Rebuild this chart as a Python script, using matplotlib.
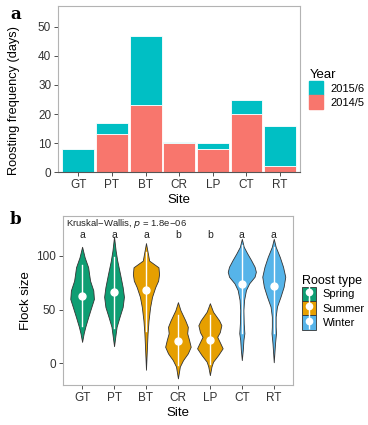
import numpy as np
import matplotlib
matplotlib.use("Agg")
import matplotlib.pyplot as plt
from matplotlib.patches import Patch
from matplotlib.lines import Line2D
from matplotlib.legend_handler import HandlerTuple

plt.rcParams['font.family'] = ['Liberation Sans', 'DejaVu Sans']

sites = ['GT', 'PT', 'BT', 'CR', 'LP', 'CT', 'RT']

# panel a: roosting days per year
days_2014 = [0, 13, 23, 10, 8, 20, 2]
days_2015 = [8, 4, 24, 0.3, 2, 5, 14]

# panel b: violin outlines (flock size, half width)
violin_y = [
    [20, 28, 34, 43, 52.5, 60, 68, 77, 83, 89.5, 98.8, 108.6],
    [16, 25, 34, 43, 52.5, 62, 71, 83, 95.7, 105, 118],
    [-6, 15, 28, 40, 52.5, 62, 71, 77, 83, 89.5, 95.7, 112],
    [-14, -3, 3, 9.3, 15.4, 21.6, 28, 34, 40, 49.4, 57],
    [-11, -3, 1.5, 7.7, 14, 18.5, 24.7, 29, 35.5, 40, 48, 56],
    [3, 12.4, 21.7, 28, 37.2, 49.6, 59, 68.3, 74.5, 80.7, 85.3, 90, 96.2, 102.4, 108.6, 116],
    [1, 18.7, 28, 34.2, 43.5, 52.8, 62, 71.4, 80.7, 90, 99, 108.6, 116],
]
violin_w = [
    [0, 0.05, 0.10, 0.19, 0.29, 0.37, 0.35, 0.25, 0.22, 0.19, 0.08, 0],
    [0, 0.04, 0.08, 0.17, 0.27, 0.31, 0.27, 0.19, 0.10, 0.05, 0],
    [0, 0.03, 0.05, 0.08, 0.13, 0.19, 0.29, 0.38, 0.41, 0.39, 0.10, 0],
    [0, 0.06, 0.16, 0.31, 0.40, 0.35, 0.29, 0.31, 0.23, 0.08, 0],
    [0, 0.05, 0.10, 0.26, 0.40, 0.33, 0.23, 0.31, 0.36, 0.29, 0.10, 0],
    [0, 0.03, 0.05, 0.08, 0.06, 0.05, 0.07, 0.13, 0.23, 0.40, 0.44, 0.40, 0.29, 0.17, 0.06, 0],
    [0, 0.04, 0.07, 0.06, 0.06, 0.10, 0.21, 0.31, 0.36, 0.29, 0.19, 0.06, 0],
]
centre = [63, 66, 68, 21, 22, 74, 72]
line_lo = [35, 33, 30, -2, -1, 28, 28]
line_hi = [92, 99, 104, 45, 45, 110, 108]
roost = ['Spring', 'Spring', 'Summer', 'Summer', 'Summer', 'Winter', 'Winter']
groups = ['a', 'a', 'a', 'b', 'b', 'a', 'a']

year_cols = {'2015/6': '#00BFC4', '2014/5': '#F8766D'}
roost_cols = {'Spring': '#0E9E73', 'Summer': '#E69F00', 'Winter': '#56B4E9'}

fig = plt.figure(figsize=(3.68, 4.25), dpi=100)
pos = np.arange(1, len(sites) + 1)

# ---- panel a
ax = fig.add_axes([0.158, 0.5946, 0.658, 0.391])
ax.bar(pos, days_2014, width=0.95, color=year_cols['2014/5'], edgecolor='white', linewidth=0.6)
ax.bar(pos, days_2015, width=0.95, bottom=days_2014, color=year_cols['2015/6'],
       edgecolor='white', linewidth=0.6)
ax.set_xlim(0.4, 7.6)
ax.set_ylim(0, 57.1)
ax.set_yticks([0, 10, 20, 30, 40, 50])
ax.set_xticks(pos)
ax.set_xticklabels(sites)
ax.set_xlabel('Site', fontsize=9.5, labelpad=2)
ax.set_ylabel('Roosting frequency (days)', fontsize=9.2)
ax.yaxis.set_label_coords(-0.158, 0.435)
for s in ['left', 'top', 'right']:
    ax.spines[s].set_color('#b3b3b3')
ax.spines['bottom'].set_color('#555555')
ax.tick_params(labelsize=8.5, colors='#333333', length=3, width=0.6, pad=2)
ax.legend(handles=[Patch(color=year_cols['2015/6']), Patch(color=year_cols['2014/5'])],
          labels=['2015/6', '2014/5'], title='Year', loc='center left',
          bbox_to_anchor=(1.038, 0.5), frameon=False, fontsize=8, title_fontsize=9.5,
          handlelength=1.25, handleheight=1.6, handletextpad=0.6, labelspacing=0.0,
          borderpad=0, borderaxespad=0, alignment='left')
fig.text(0.027, 0.966, 'a', fontsize=12, fontweight='bold', family='DejaVu Serif', va='center')

# ---- panel b
bx = fig.add_axes([0.171, 0.0941, 0.625, 0.398])
for i in range(len(sites)):
    y = np.array(violin_y[i])
    w = np.array(violin_w[i])
    bx.fill_betweenx(y, pos[i] - w, pos[i] + w, facecolor=roost_cols[roost[i]],
                     edgecolor='#333333', linewidth=0.6, zorder=2)
    bx.plot([pos[i], pos[i]], [line_lo[i], line_hi[i]], color='white', lw=1.0, zorder=3)
    bx.plot(pos[i], centre[i], 'o', color='white', ms=5, zorder=4)
    bx.text(pos[i], 119.5, groups[i], ha='center', va='center', fontsize=7.5, color='#222222')
bx.text(0.012, 0.995, 'Kruskal\u2212Wallis, $\\it{p}$ = 1.8e\u221206', transform=bx.transAxes,
        ha='left', va='top', fontsize=6.8, color='#222222')
bx.set_xlim(0.4, 7.6)
bx.set_ylim(-20.2, 137.4)
bx.set_yticks([0, 50, 100])
bx.set_xticks(pos)
bx.set_xticklabels(sites)
bx.set_xlabel('Site', fontsize=9.5, labelpad=2)
bx.set_ylabel('Flock size', fontsize=9.5, labelpad=3)
for s in bx.spines.values():
    s.set_color('#b3b3b3')
bx.tick_params(labelsize=8.5, colors='#333333', length=3, width=0.6, pad=2)
handles = []
for r in ['Spring', 'Summer', 'Winter']:
    handles.append((Patch(facecolor=roost_cols[r], edgecolor='#333333', linewidth=0.6),
                    Line2D([], [], marker='|', color='white', ms=12, mew=1.0, ls='none'),
                    Line2D([], [], marker='o', color='white', ms=4.5, ls='none')))
bx.legend(handles=handles, labels=['Spring', 'Summer', 'Winter'], title='Roost type',
          handler_map={tuple: HandlerTuple(ndivide=1, pad=0)}, loc='center left',
          bbox_to_anchor=(1.04, 0.49), frameon=False, fontsize=8, title_fontsize=9,
          handlelength=1.25, handleheight=1.6, handletextpad=0.6, labelspacing=0.0,
          borderpad=0, borderaxespad=0, alignment='left')
fig.text(0.027, 0.483, 'b', fontsize=12, fontweight='bold', family='DejaVu Serif', va='center')

fig.savefig('out.png', dpi=100)
